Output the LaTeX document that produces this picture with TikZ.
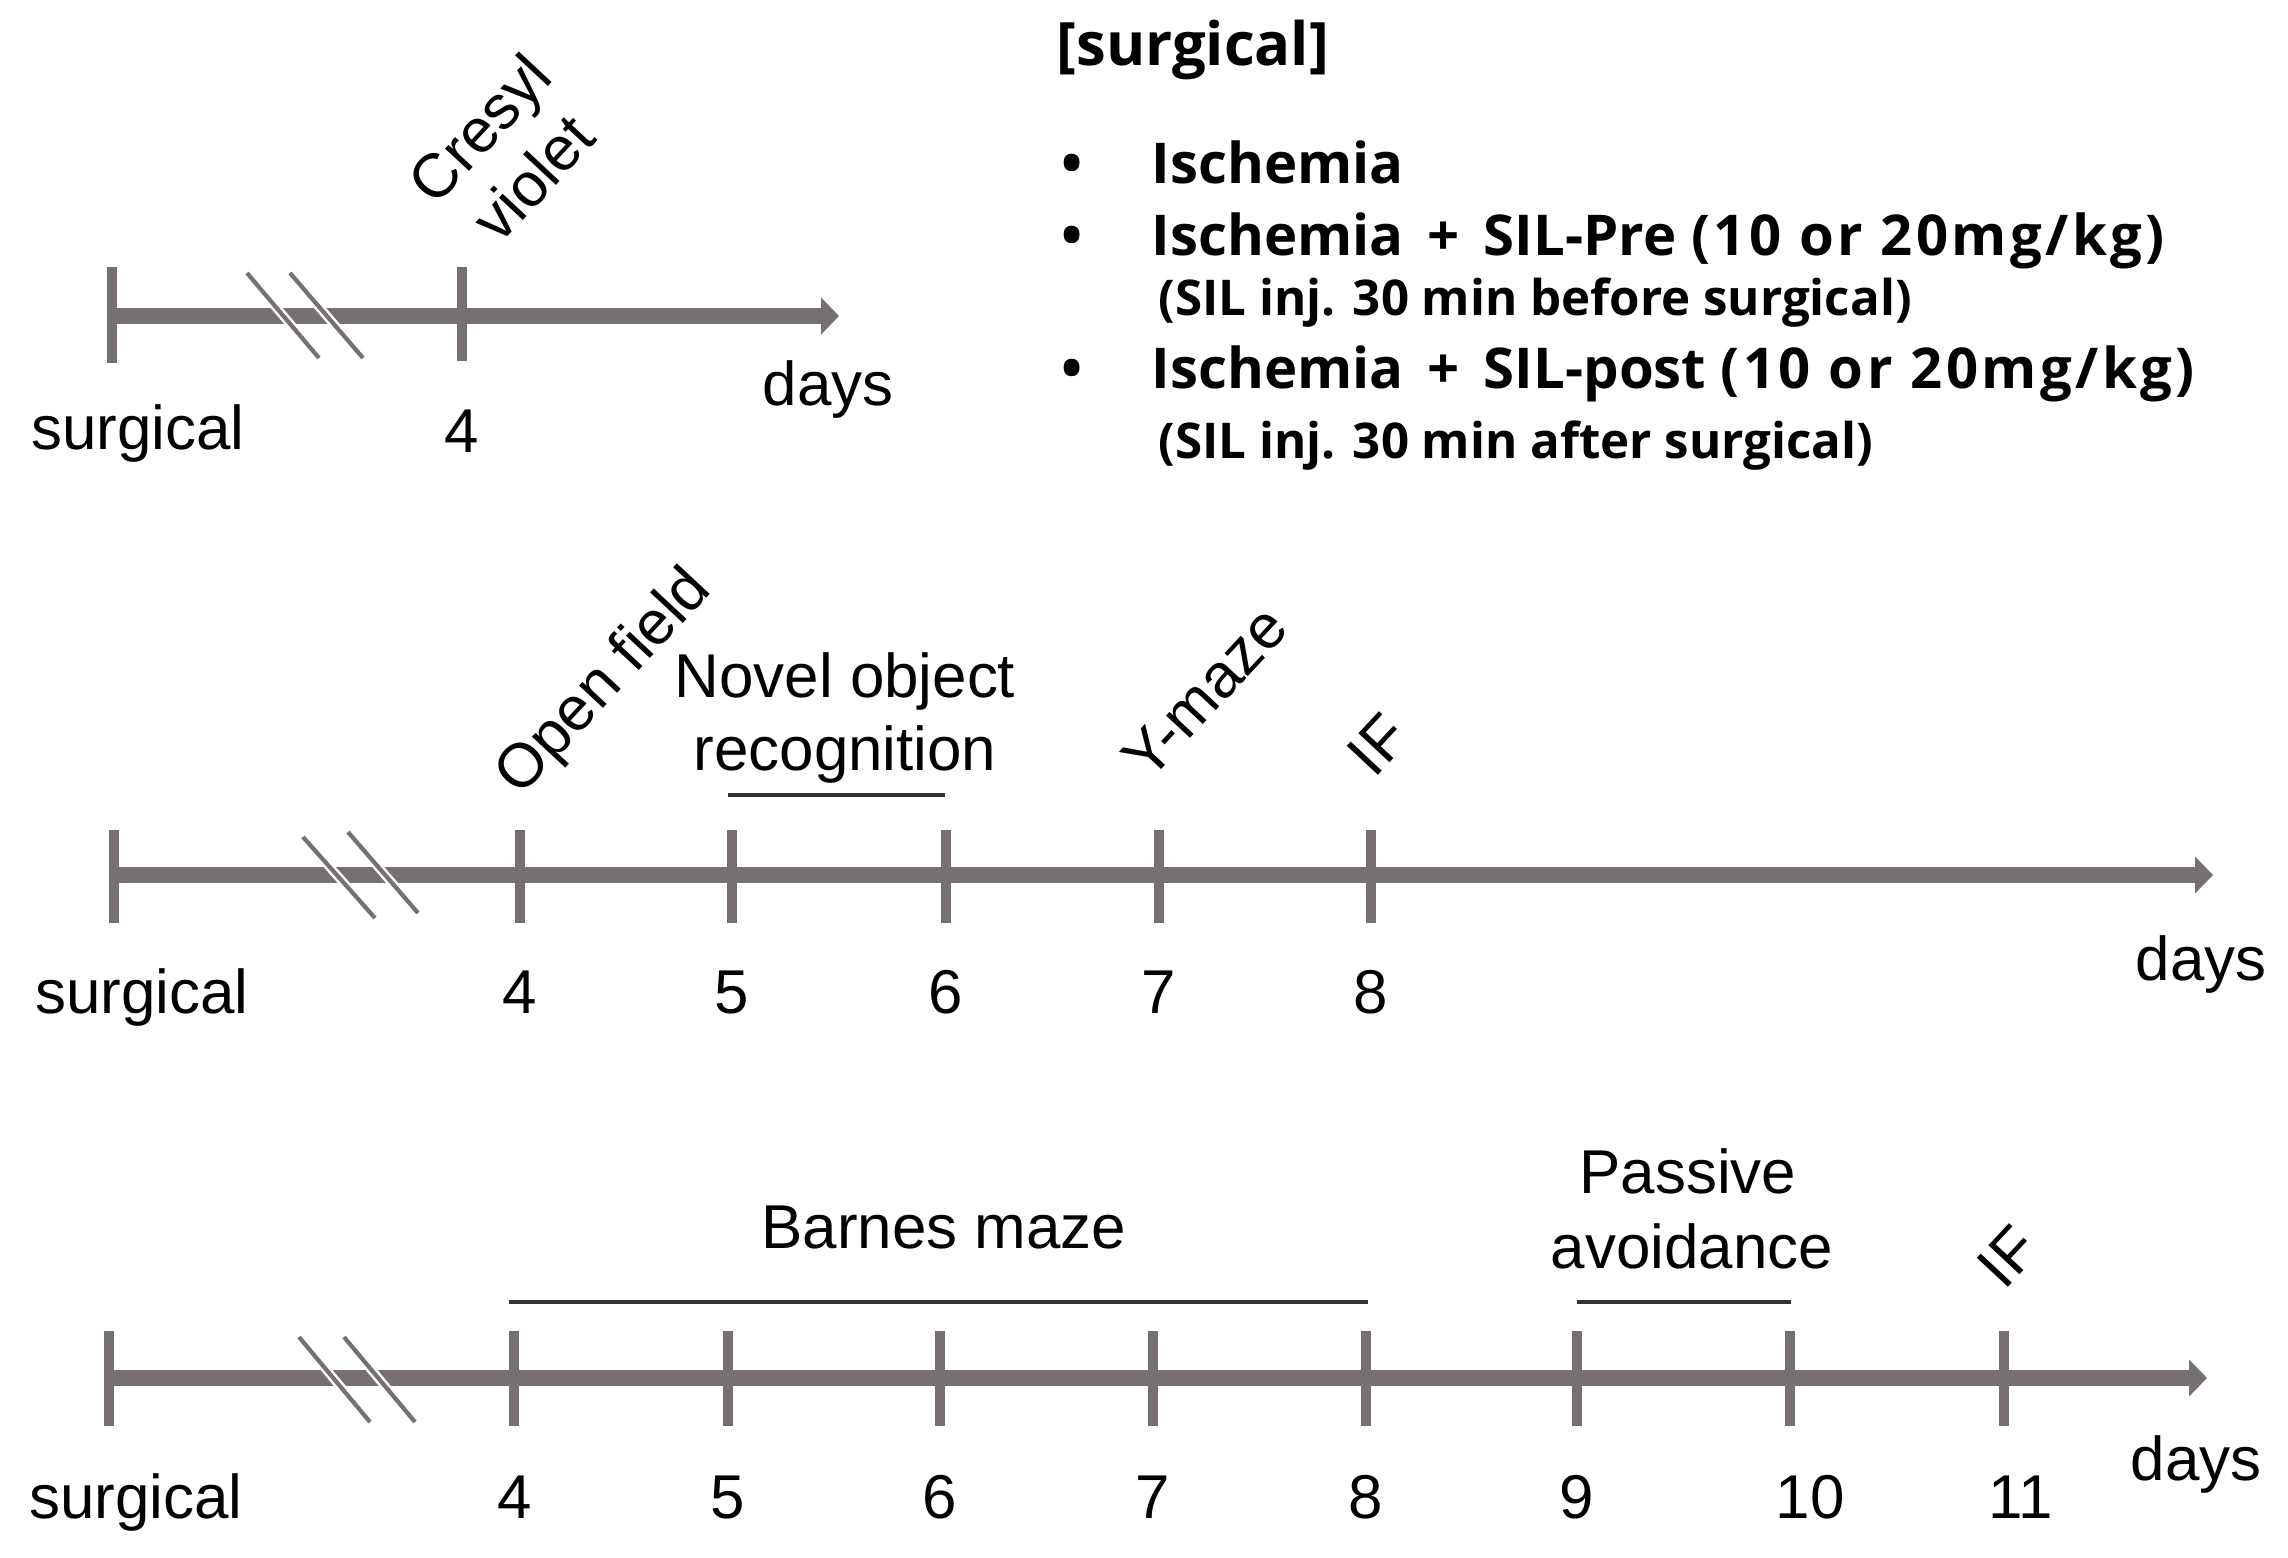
\documentclass[tikz,border=0pt]{standalone}
\usepackage{fontspec}
\setmainfont{Liberation Sans}
\newfontfamily\kfont{Open Sans}
\newfontfamily\kfontw{Open Sans}[LetterSpace=6]
\usetikzlibrary{arrows.meta}
\definecolor{tl}{RGB}{118,113,112}
\tikzset{
  axisline/.style={draw=tl, line width=4.8pt, -{Triangle[length=0.18cm,width=0.36cm]}},
  tickmark/.style={draw=tl, line width=3.1pt},
  brk/.style={draw=tl, line width=1.2pt, preaction={draw=white, line width=2.6pt}},
  lbl/.style={font=\fontsize{17.6pt}{20.8pt}\selectfont, inner sep=0pt},
  numlbl/.style={lbl, anchor=base},
  rotlbl/.style={lbl, rotate=47, anchor=base west},
  spanline/.style={draw=black!80, line width=0.9pt},
  bigtxt/.style={font=\kfont\bfseries\fontsize{16pt}{19pt}\selectfont, inner sep=0pt, anchor=base west},
  smalltxt/.style={font=\kfont\bfseries\fontsize{14pt}{16pt}\selectfont, inner sep=0pt, anchor=base west},
  bul/.style={font=\kfont\bfseries\fontsize{16pt}{19pt}\selectfont, inner sep=0pt, anchor=base},
}
\newcommand{\wideparen}[1]{{\kfontw\bfseries\fontsize{16pt}{19pt}\selectfont #1}}
\begin{document}
\begin{tikzpicture}[x=0.01cm,y=-0.01cm]
\useasboundingbox (0,0) rectangle (2288,1557);
\fill[white] (0,0) rectangle (2288,1557);

% ---------- top timeline ----------
\coordinate (a0) at (112,316);
\coordinate (a1) at (839,316);
\draw[axisline] (a0) -- (a1);
\coordinate (at0t) at (112,267); \coordinate (at0b) at (112,363);
\coordinate (at4t) at (462,267); \coordinate (at4b) at (462,361);
\draw[tickmark] (at0t) -- (at0b);
\draw[tickmark] (at4t) -- (at4b);
\coordinate (ab1s) at (247,273); \coordinate (ab1e) at (319,358);
\coordinate (ab2s) at (290,273); \coordinate (ab2e) at (363,358);
\draw[brk] (ab1s) -- (ab1e);
\draw[brk] (ab2s) -- (ab2e);
\node[numlbl] (asurg) at (138,449) {surgical};
\node[numlbl] (a4) at (462,452) {4};
\node[numlbl] (adays) at (828,405) {days};
\node[lbl, rotate=47, align=center] (acv) at (506,153) {Cresyl\\violet};

% ---------- text block ----------
\node[bigtxt, font=\kfont\bfseries\fontsize{17pt}{19pt}\selectfont] (hdr) at (1056,65) {[surgical]};
\node[bul] (b1) at (1072,183) {•};
\node[bigtxt] (g1) at (1151,183) {Ischemia};
\node[bul] (b2) at (1072,255) {•};
\node[bigtxt] (g2) at (1151,255) {Ischemia \,+\, SIL-Pre \wideparen{(10 or 20mg/kg)}};
\node[smalltxt] (g2s) at (1158,315) {(SIL inj. 30 min before surgical)};
\node[bul] (b3) at (1072,388) {•};
\node[bigtxt] (g3) at (1151,388) {Ischemia \,+\, SIL-post \wideparen{(10 or 20mg/kg)}};
\node[smalltxt] (g3s) at (1158,458) {(SIL inj. 30 min after surgical)};

% ---------- middle timeline ----------
\coordinate (b0) at (114,875);
\coordinate (bend) at (2213,875);
\draw[axisline] (b0) -- (bend);
\foreach \n/\x in {s/114, 4/520, 5/732, 6/946, 7/1159, 8/1371}{
  \coordinate (bt\n t) at (\x,830); \coordinate (bt\n b) at (\x,923);
  \draw[tickmark] (bt\n t) -- (bt\n b);
}
\coordinate (bb1s) at (303,837); \coordinate (bb1e) at (375,918);
\coordinate (bb2s) at (348,832); \coordinate (bb2e) at (418,913);
\draw[brk] (bb1s) -- (bb1e);
\draw[brk] (bb2s) -- (bb2e);
\node[numlbl] (bsurg) at (142,1013) {surgical};
\node[numlbl] (b4) at (520,1013) {4};
\node[numlbl] (b5) at (732,1013) {5};
\node[numlbl] (b6) at (946,1013) {6};
\node[numlbl] (b7) at (1159,1013) {7};
\node[numlbl] (b8) at (1371,1013) {8};
\node[numlbl] (bdays) at (2201,980) {days};
\node[rotlbl] (bof) at (520,798) {Open field};
\node[numlbl] (bnor1) at (845,697) {Novel object};
\node[numlbl] (bnor2) at (845,770) {recognition};
\coordinate (bn0) at (728,795); \coordinate (bn1) at (945,795);
\draw[spanline] (bn0) -- (bn1);
\node[rotlbl] (bym) at (1149,783) {Y-maze};
\node[rotlbl] (bif) at (1374,780) {IF};

% ---------- bottom timeline ----------
\coordinate (c0) at (109,1378);
\coordinate (cend) at (2207,1378);
\draw[axisline] (c0) -- (cend);
\foreach \n/\x in {s/109, 4/514, 5/728, 6/940, 7/1153, 8/1366, 9/1577, 10/1790, 11/2004}{
  \coordinate (ct\n t) at (\x,1331); \coordinate (ct\n b) at (\x,1426);
  \draw[tickmark] (ct\n t) -- (ct\n b);
}
\coordinate (cb1s) at (299,1337); \coordinate (cb1e) at (370,1422);
\coordinate (cb2s) at (344,1337); \coordinate (cb2e) at (415,1422);
\draw[brk] (cb1s) -- (cb1e);
\draw[brk] (cb2s) -- (cb2e);
\node[numlbl] (csurg) at (136,1518) {surgical};
\node[numlbl] (c4) at (515,1518) {4};
\node[numlbl] (c5) at (728,1518) {5};
\node[numlbl] (c6) at (940,1518) {6};
\node[numlbl] (c7) at (1153,1518) {7};
\node[numlbl] (c8) at (1366,1518) {8};
\node[numlbl] (c9) at (1577,1518) {9};
\node[numlbl] (c10) at (1810,1518) {10};
\node[numlbl] (c11) at (2021,1518) {11};
\node[numlbl] (cdays) at (2196,1480) {days};
\node[numlbl] (cbm) at (944,1248) {Barnes maze};
\coordinate (cm0) at (509,1302); \coordinate (cm1) at (1368,1302);
\draw[spanline] (cm0) -- (cm1);
\node[numlbl] (cpa1) at (1688,1193) {Passive};
\node[numlbl] (cpa2) at (1692,1268) {avoidance};
\coordinate (cp0) at (1577,1302); \coordinate (cp1) at (1791,1302);
\draw[spanline] (cp0) -- (cp1);
\node[rotlbl] (cif) at (2004,1292) {IF};
\end{tikzpicture}
\end{document}
